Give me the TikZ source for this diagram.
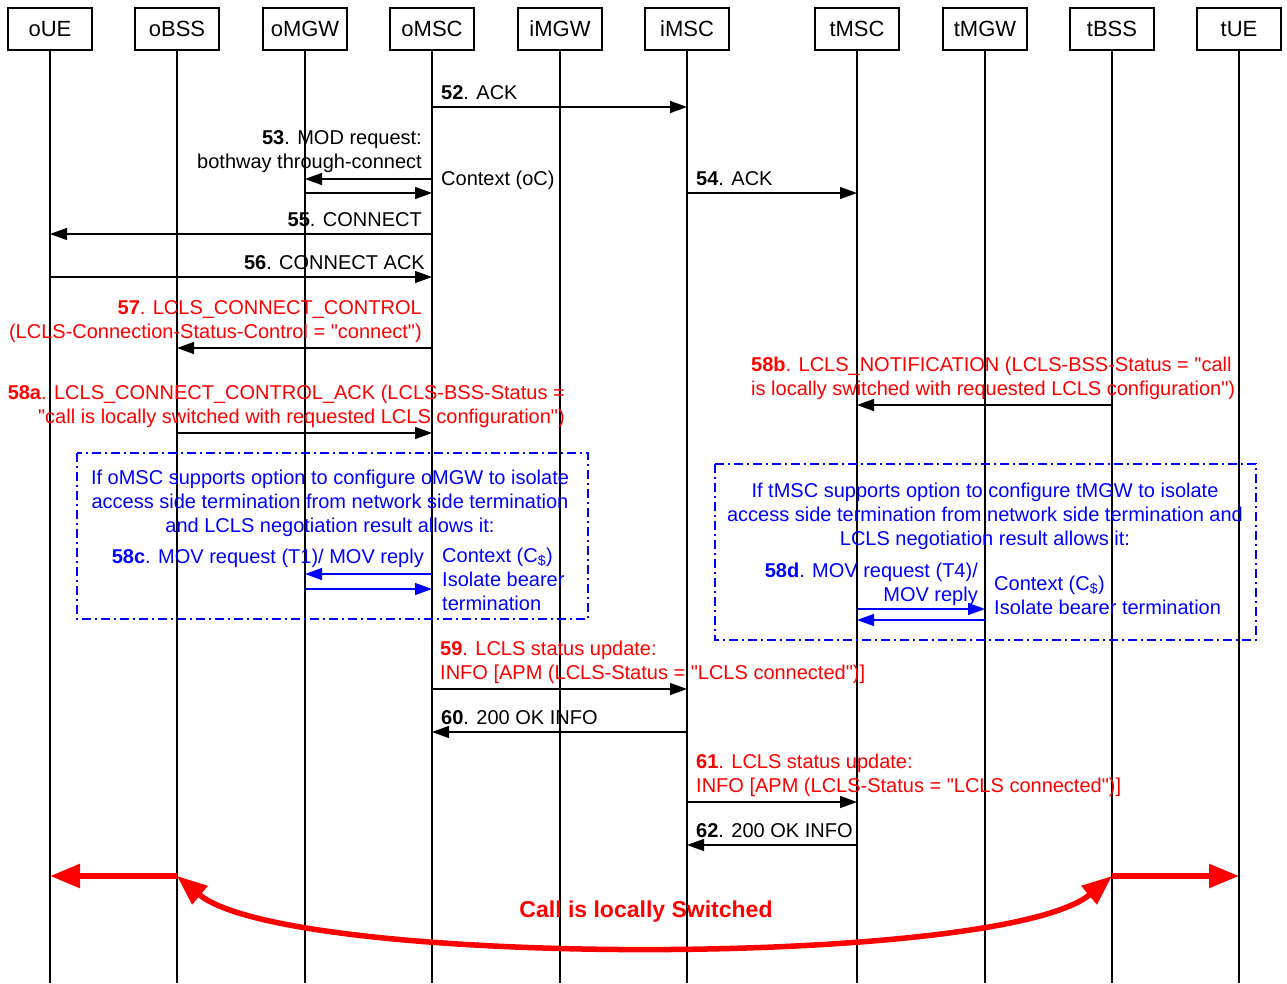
\documentclass[tikz,border=0pt]{standalone}
\usepackage{fontspec}
\setmainfont{Liberation Sans}[Ligatures=TeXOff]
\usetikzlibrary{arrows.meta}
\begin{document}
\begin{tikzpicture}[x=1pt,y=-1pt,
  hdr/.style={draw, line width=1.2pt, minimum width=84pt, minimum height=42pt, inner sep=0pt, font=\fontsize{22}{26}\selectfont},
  life/.style={line width=1.1pt},
  msg/.style={line width=1.3pt, -{Triangle[length=17pt,width=12pt]}},
  bmsg/.style={msg, blue},
  txt/.style={font=\fontsize{20}{24}\selectfont, inner sep=0pt},
  tl/.style={txt, anchor=base west},
  tr/.style={txt, anchor=base east},
  tc/.style={txt, anchor=base},
  optbox/.style={blue, line width=1.2pt, dash pattern=on 9pt off 4pt on 2pt off 4pt},
  lcls/.style={red, line width=5.5pt},
  bighead/.tip={Triangle[length=30pt,width=23pt]}
]
\useasboundingbox (0,0) rectangle (1287,983);
% headers
\node[hdr] (oUE)  at (50,29)   {oUE};
\node[hdr] (oBSS) at (177,29)  {oBSS};
\node[hdr] (oMGW) at (305,29)  {oMGW};
\node[hdr] (oMSC) at (432,29)  {oMSC};
\node[hdr] (iMGW) at (560,29)  {iMGW};
\node[hdr] (iMSC) at (687,29)  {iMSC};
\node[hdr] (tMSC) at (857,29)  {tMSC};
\node[hdr] (tMGW) at (985,29)  {tMGW};
\node[hdr] (tBSS) at (1112,29) {tBSS};
\node[hdr] (tUE)  at (1239,29) {tUE};
\coordinate (bottom) at (0,983);
\foreach \n in {oUE,oBSS,oMGW,oMSC,iMGW,iMSC,tMSC,tMGW,tBSS,tUE}
  \draw[life] (\n.south) -- (\n |- bottom);
% row coordinates
\foreach \n/\y in {52/107,53a/179,53b/193,54/193,55/234,56/277,57/348,58b/405,58a/433,
  58ca/574,58cb/589,58da/609,58db/620,59/689,60/732,61/802,62/845,cs/876}
  \coordinate (r\n) at (0,\y);
% option boxes
\draw[optbox] (77,453) rectangle (588,619);
\draw[optbox] (715,464) rectangle (1256,640);
% messages
\draw[msg] (oMSC |- r52) -- (iMSC |- r52);
\node[tl] (t52) at (441,99) {\textbf{52}. ACK};
\draw[msg] (oMSC |- r53a) -- (oMGW |- r53a);
\draw[msg] (oMGW |- r53b) -- (oMSC |- r53b);
\node[tr] (t53a) at (422,144) {\textbf{53}. MOD request:};
\node[tr] (t53b) at (422,168) {bothway through-connect};
\node[tl] (ctxo) at (441,185) {Context (oC)};
\draw[msg] (iMSC |- r54) -- (tMSC |- r54);
\node[tl] (t54) at (696,185) {\textbf{54}. ACK};
\draw[msg] (oMSC |- r55) -- (oUE |- r55);
\node[tr] (t55) at (422,226) {\textbf{55}. CONNECT};
\draw[msg] (oUE |- r56) -- (oMSC |- r56);
\node[tr] (t56) at (425,269) {\textbf{56}. CONNECT ACK};
\draw[msg] (oMSC |- r57) -- (oBSS |- r57);
\node[tr,text=red] (t57a) at (422,314) {\textbf{57}. LCLS\_CONNECT\_CONTROL};
\node[tr,text=red] (t57b) at (422,338) {(LCLS-Connection-Status-Control = "connect")};
\draw[msg] (tBSS |- r58b) -- (tMSC |- r58b);
\node[tl,text=red] (t58ba) at (751,371) {\textbf{58b}. LCLS\_NOTIFICATION (LCLS-BSS-Status = "call};
\node[tl,text=red] (t58bb) at (751,395) {is locally switched with requested LCLS configuration")};
\draw[msg] (oBSS |- r58a) -- (oMSC |- r58a);
\node[tr,text=red] (t58aa) at (565,399) {\textbf{58a}. LCLS\_CONNECT\_CONTROL\_ACK (LCLS-BSS-Status =};
\node[tr,text=red] (t58ab) at (565,423) {"call is locally switched with requested LCLS configuration")};
% box 1
\node[tc,text=blue] (b1a) at (330,484) {If oMSC supports option to configure oMGW to isolate};
\node[tc,text=blue] (b1b) at (330,508) {access side termination from network side termination};
\node[tc,text=blue] (b1c) at (330,532) {and LCLS negotiation result allows it:};
\node[tr,text=blue] (t58c) at (424,563) {\textbf{58c}. MOV request (T1)/ MOV reply};
\node[tl,text=blue] (c1a) at (442,562) {Context (C\textsubscript{\$})};
\node[tl,text=blue] (c1b) at (442,586) {Isolate bearer};
\node[tl,text=blue] (c1c) at (442,610) {termination};
\draw[bmsg] (oMSC |- r58ca) -- (oMGW |- r58ca);
\draw[bmsg] (oMGW |- r58cb) -- (oMSC |- r58cb);
% box 2
\node[tc,text=blue] (b2a) at (985,497) {If tMSC supports option to configure tMGW to isolate};
\node[tc,text=blue] (b2b) at (985,521) {access side termination from network side termination and};
\node[tc,text=blue] (b2c) at (985,545) {LCLS negotiation result allows it:};
\node[tr,text=blue] (t58da) at (978,577) {\textbf{58d}. MOV request (T4)/};
\node[tr,text=blue] (t58db) at (978,601) {MOV reply};
\node[tl,text=blue] (c2a) at (994,590) {Context (C\textsubscript{\$})};
\node[tl,text=blue] (c2b) at (994,614) {Isolate bearer termination};
\draw[bmsg] (tMSC |- r58da) -- (tMGW |- r58da);
\draw[bmsg] (tMGW |- r58db) -- (tMSC |- r58db);
% 59-62
\draw[msg] (oMSC |- r59) -- (iMSC |- r59);
\node[tl,text=red] (t59a) at (440,655) {\textbf{59}. LCLS status update:};
\node[tl,text=red] (t59b) at (440,679) {INFO [APM (LCLS-Status = "LCLS connected")]};
\draw[msg] (iMSC |- r60) -- (oMSC |- r60);
\node[tl] (t60) at (441,724) {\textbf{60}. 200 OK INFO};
\draw[msg] (iMSC |- r61) -- (tMSC |- r61);
\node[tl,text=red] (t61a) at (696,768) {\textbf{61}. LCLS status update:};
\node[tl,text=red] (t61b) at (696,792) {INFO [APM (LCLS-Status = "LCLS connected")]};
\draw[msg] (tMSC |- r62) -- (iMSC |- r62);
\node[tl] (t62) at (696,837) {\textbf{62}. 200 OK INFO};
% locally switched
\draw[lcls,-bighead] (oBSS |- rcs) -- (oUE |- rcs);
\draw[lcls,-bighead] (tBSS |- rcs) -- (tUE |- rcs);
\draw[lcls,bighead-bighead] (oBSS |- rcs) .. controls (287,968) and (1002,968) .. (tBSS |- rcs);
\node[tc,text=red,font=\fontsize{23}{27}\selectfont\bfseries] (cls) at (646,917) {Call is locally Switched};
\end{tikzpicture}
\end{document}
